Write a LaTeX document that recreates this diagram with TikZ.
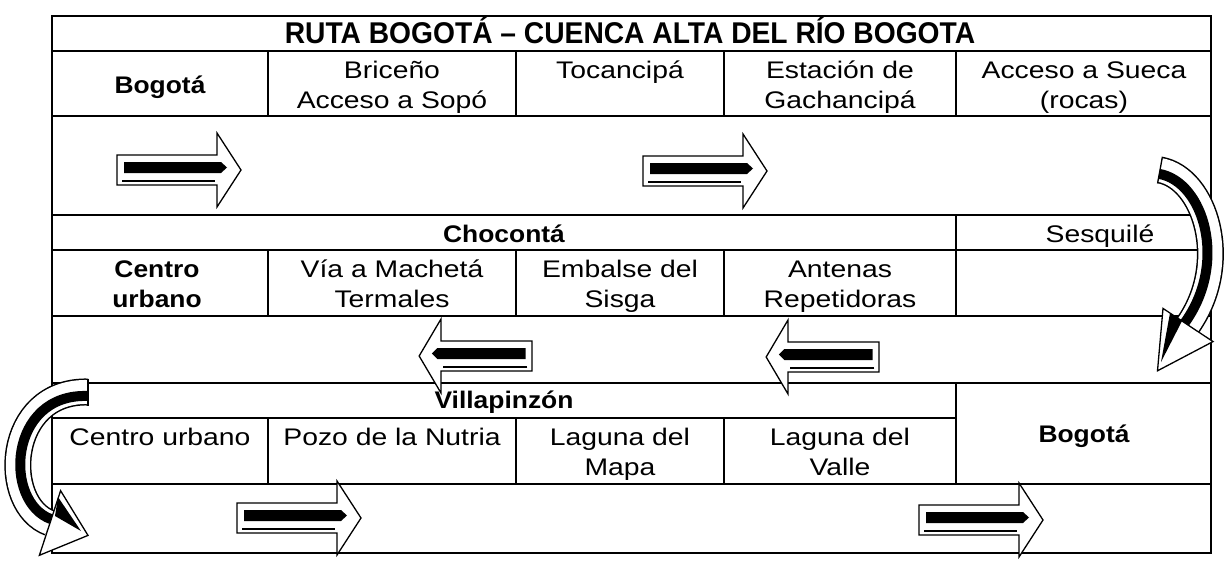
\documentclass[tikz,border=0pt]{standalone}
\usepackage{fontspec}
\newfontfamily\bodyfont{Liberation Sans}[FakeStretch=1.18]
\newfontfamily\hdfont{Liberation Sans}[FakeStretch=1.1]
\newfontfamily\titlefont{Liberation Sans}[FakeStretch=0.94]
\tikzset{
  grid/.style={line width=1.6pt},
  cell/.style={font=\bodyfont\fontsize{24}{30}\selectfont, align=center, inner sep=0pt},
  bcell/.style={font=\hdfont\bfseries\fontsize{24}{30}\selectfont, align=center, inner sep=0pt},
  two/.style={anchor=north},
  one/.style={anchor=base},
  blockarrow/.pic={
    \draw[line width=1.3pt, fill=white, line join=miter]
      (0,-15) -- (100,-15) -- (100,-37) -- (124,0) -- (100,37) -- (100,15) -- (0,15) -- cycle;
    \fill (7,-8) -- (104,-8) -- (110,-2.5) -- (104,3) -- (7,3) -- cycle;
    \draw[line width=2.2pt] (5,11) -- (98,11);
  },
  bandout/.style={line width=27pt, black},
  bandin/.style={line width=24pt, white},
  bandcore/.style={line width=10pt, black},
  headstyle/.style={line width=1.3pt, fill=white, line join=miter},
}
\begin{document}
\begin{tikzpicture}[x=1pt,y=-1pt]
\useasboundingbox (0,0) rectangle (1229,562);
% table grid
\draw[grid] (52,16) rectangle (1211,553);
\foreach \yy in {51,116,215,250,316,383,484} \draw[grid] (52,\yy) -- (1211,\yy);
\draw[grid] (52,418) -- (956,418);
\foreach \xx in {268,516,724,956} \draw[grid] (\xx,51) -- (\xx,116);
\draw[grid] (956,215) -- (956,316);
\foreach \xx in {268,516,724} \draw[grid] (\xx,250) -- (\xx,316);
\draw[grid] (956,383) -- (956,484);
\foreach \xx in {268,516,724} \draw[grid] (\xx,418) -- (\xx,484);

% texts
\node[one, font=\titlefont\bfseries\fontsize{30}{34}\selectfont, inner sep=0pt] (title) at (630,43) {RUTA BOGOTÁ – CUENCA ALTA DEL RÍO BOGOTA};
\node[bcell, one] (bog1) at (160,93) {Bogotá};
\node[cell, two] (bri) at (392,57) {\strut Briceño\\\strut Acceso a Sopó};
\node[cell, one] (toc) at (620,78) {Tocancipá};
\node[cell, two] (est) at (840,57) {\strut Estación de\\\strut Gachancipá};
\node[cell, two] (suc) at (1084,57) {\strut Acceso a Sueca\\\strut (rocas)};

\node[bcell, one] (cho) at (504,242) {Chocontá};
\node[cell, one] (ses) at (1100,242) {Sesquilé};
\node[bcell, two] (cen) at (157,256) {\strut Centro\\\strut urbano};
\node[cell, two] (via) at (392,256) {\strut Vía a Machetá\\\strut Termales};
\node[cell, two] (emb) at (620,256) {\strut Embalse del\\\strut Sisga};
\node[cell, two] (ant) at (840,256) {\strut Antenas\\\strut Repetidoras};

\node[bcell, one] (vil) at (504,408) {Villapinzón};
\node[bcell, one] (bog2) at (1084,442) {Bogotá};
\node[cell, one] (cu) at (160,445) {Centro urbano};
\node[cell, one] (poz) at (392,445) {Pozo de la Nutria};
\node[cell, two] (lm) at (620,424) {\strut Laguna del\\\strut Mapa};
\node[cell, two] (lv) at (840,424) {\strut Laguna del\\\strut Valle};

% straight block arrows
\pic at (117,170) {blockarrow};
\pic at (643,171) {blockarrow};
\pic[xscale=-0.91] at (532,356) {blockarrow};
\pic[xscale=-0.91] at (879,357) {blockarrow};
\pic at (237,518) {blockarrow};
\pic at (919,520) {blockarrow};

% right curved arrow
\draw[bandout] (1160,170) .. controls (1205,178) and (1232,262) .. (1188,325);
\draw[bandin] (1160,170) .. controls (1205,178) and (1232,262) .. (1188,325);
\draw[bandcore] (1159.3,173.9) .. controls (1204,182) and (1228,263) .. (1184.7,322.8);
\draw[line width=1.3pt] (1157.6,183.3) -- (1162.4,156.7);
\draw[headstyle] (1213,341.6) -- (1163,308.4) -- (1157.5,370.8) -- cycle;
\fill (1170,313) -- (1182,321) -- (1161,362) -- cycle;

% left curved arrow
\draw[bandout] (88,392) .. controls (5,390) and (0,505) .. (50,523);
\draw[bandin] (88,392) .. controls (5,390) and (0,505) .. (50,523);
\draw[bandcore] (88,396) .. controls (8,393) and (3,502) .. (51.2,519.2);
\draw[line width=1.3pt] (88,378.5) -- (88,405.5);
\draw[headstyle] (39.4,555.3) -- (60.6,490.7) -- (88,535.4) -- cycle;
\fill (58,497) -- (55,516) -- (81,531) -- cycle;
\end{tikzpicture}
\end{document}
